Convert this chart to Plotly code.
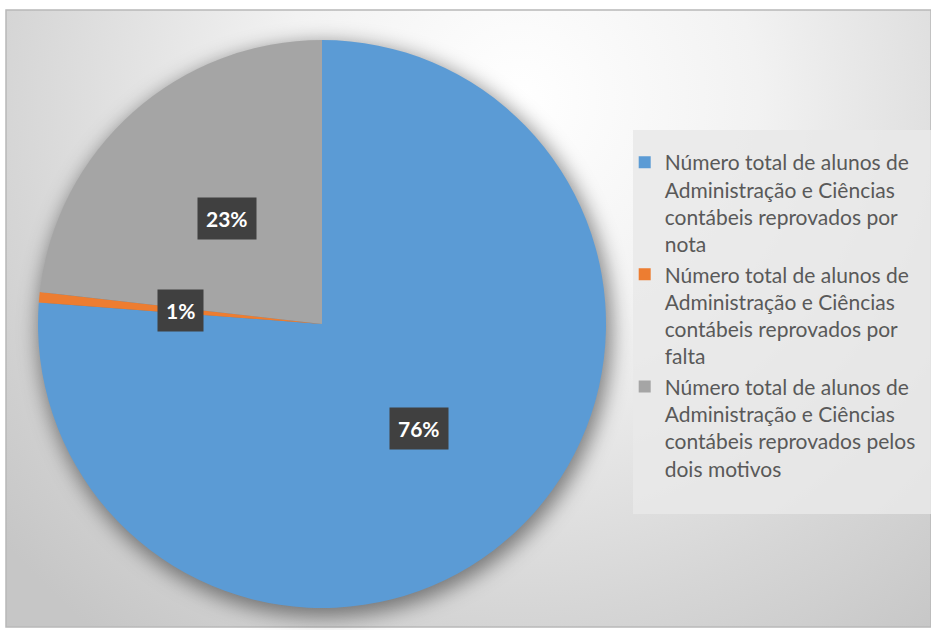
import base64
import math
import plotly.graph_objects as go

# Shares of failed students (percent)
categorias = [
    "Número total de alunos de<br>Administração e Ciências<br>contábeis reprovados por<br>nota",
    "Número total de alunos de<br>Administração e Ciências<br>contábeis reprovados por<br>falta",
    "Número total de alunos de<br>Administração e Ciências<br>contábeis reprovados pelos<br>dois motivos",
]
valores = [76.2, 0.6, 23.2]
cores = ["#5B9BD5", "#ED7D31", "#A5A5A5"]

W, H = 931, 630
# pie placement (pixels)
pie_left, pie_right, pie_top, pie_bottom = 38, 606, 40, 608
dom_x = [pie_left / W, pie_right / W]
dom_y = [1 - pie_bottom / H, 1 - pie_top / H]
cx_px = (pie_left + pie_right) / 2
cy_px = (pie_top + pie_bottom) / 2
r_px = min(pie_right - pie_left, pie_bottom - pie_top) / 2

# background: soft radial gradient, frame, pie shadow and legend panel
svg = f"""<svg xmlns='http://www.w3.org/2000/svg' width='{W}' height='{H}' viewBox='0 0 {W} {H}'>
<defs>
<radialGradient id='g' gradientUnits='userSpaceOnUse' cx='520' cy='100' r='680'>
<stop offset='0' stop-color='#ffffff'/>
<stop offset='0.35' stop-color='#f2f2f2'/>
<stop offset='0.75' stop-color='#d6d6d6'/>
<stop offset='1' stop-color='#c6c6c6'/>
</radialGradient>
<filter id='b' x='-20%' y='-20%' width='140%' height='140%'><feGaussianBlur stdDeviation='10'/></filter>
</defs>
<rect x='0' y='0' width='{W}' height='{H}' fill='#ffffff'/>
<rect x='6' y='10' width='{W-6}' height='{H-13}' fill='url(#g)' stroke='#b8b8b8' stroke-width='1.5'/>
<circle cx='{cx_px+3}' cy='{cy_px+6}' r='{r_px+3}' fill='#000000' fill-opacity='0.45' filter='url(#b)'/>
<rect x='633' y='130' width='{W-633}' height='384' fill='#e9e9e9' fill-opacity='0.85'/>
</svg>"""
svg_uri = "data:image/svg+xml;base64," + base64.b64encode(svg.encode("utf-8")).decode("ascii")

fig = go.Figure()
fig.add_trace(go.Pie(
    labels=categorias,
    values=valores,
    marker=dict(colors=cores, line=dict(width=0)),
    sort=False,
    direction="clockwise",
    rotation=0,
    textinfo="none",
    hoverinfo="label+percent",
    domain=dict(x=dom_x, y=dom_y),
))

# percentage labels at half radius on each slice's mid-angle
total = sum(valores)
acc = 0.0
annotations = []
for v in valores:
    mid = (acc + v / 2) / total * 2 * math.pi
    acc += v
    px = cx_px + 0.5 * r_px * math.sin(mid)
    py = cy_px - 0.5 * r_px * math.cos(mid)
    annotations.append(dict(
        x=px / W, y=1 - py / H, xref="paper", yref="paper",
        xanchor="center", yanchor="middle",
        text=f"<b>{round(v / total * 100)}%</b>",
        showarrow=False,
        font=dict(family="Lato", size=21, color="#ffffff"),
        bgcolor="#404040",
        borderpad=8,
    ))

fig.update_layout(
    width=W, height=H,
    margin=dict(l=0, r=0, t=0, b=0),
    paper_bgcolor="#ffffff",
    images=[dict(source=svg_uri, xref="paper", yref="paper", x=0, y=1,
                 sizex=1, sizey=1, sizing="stretch", xanchor="left",
                 yanchor="top", layer="below")],
    annotations=annotations,
    showlegend=True,
    legend=dict(
        x=0.671, y=1 - 142 / H, xanchor="left", yanchor="top",
        font=dict(family="Lato", size=21, color="#595959"),
        bgcolor="rgba(0,0,0,0)",
        traceorder="normal",
        valign="top",
    ),
)

fig.write_html("out.html")
